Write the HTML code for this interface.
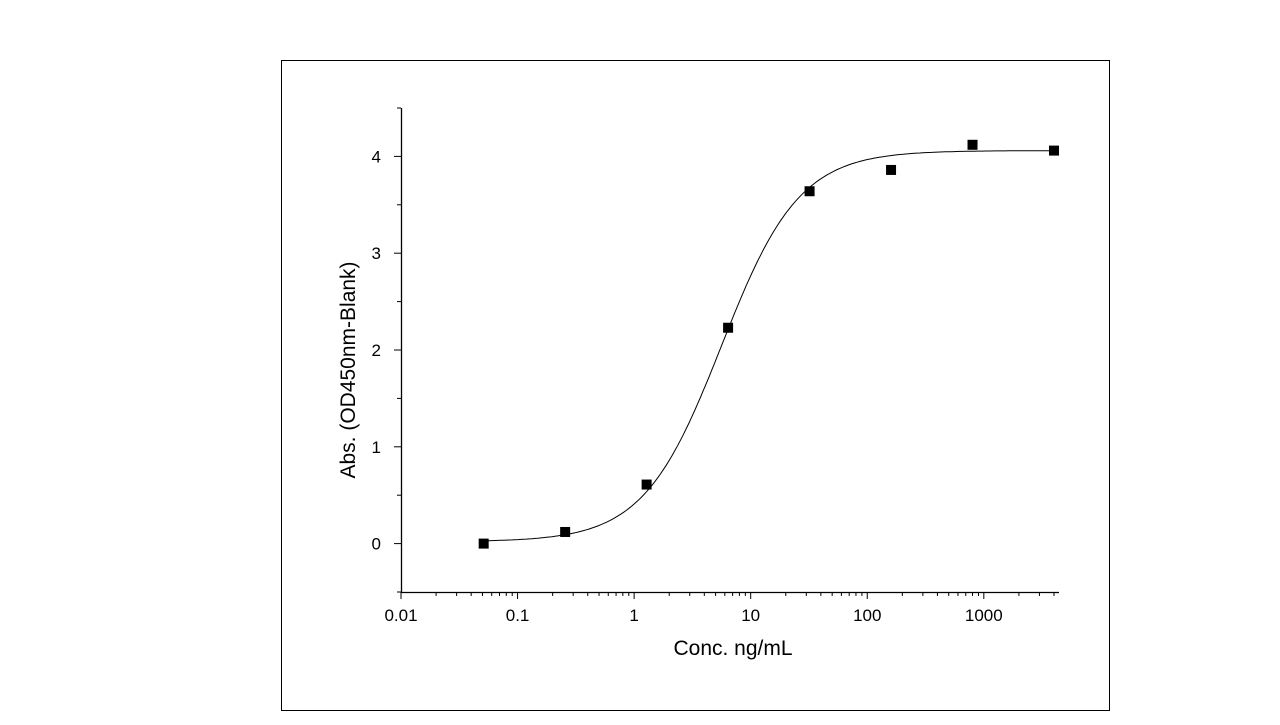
<!DOCTYPE html>
<html><head><meta charset="utf-8"><style>
body{margin:0;background:#fff;width:1280px;height:720px;overflow:hidden;font-family:"Liberation Sans",Arial,sans-serif}
</style></head><body>
<svg width="1280" height="720">
<rect x="281.5" y="60.5" width="828" height="650" fill="none" stroke="#000" stroke-width="1"/>
<g id="axes"></g>
<g id="marks"></g>
<text x="733" y="655" font-size="21" text-anchor="middle">Conc. ng/mL</text>
<text transform="translate(355,370) rotate(-90)" font-size="21" text-anchor="middle">Abs. (OD450nm-Blank)</text>
</svg>
<script>
const conc=[0.0512,0.256,1.28,6.4,32,160,800,4000];
const od=[0.0,0.12,0.61,2.23,3.64,3.86,4.12,4.06];
const xTicks=[0.01,0.1,1,10,100,1000];
const xTickLabels=["0.01","0.1","1","10","100","1000"];
const yTicks=[0,1,2,3,4];
const yTickLabels=["0","1","2","3","4"];
const fitBottom=0.02, fitTop=4.06, fitEC50=5.6, fitHill=1.3;
const NS="http://www.w3.org/2000/svg";
const X0=401,X1=1059,lmin=-2,lmax=3.645;
const Y0=592,Y1=108,ymin=-0.5,ymax=4.5;
const sx=v=>X0+(Math.log10(v)-lmin)/(lmax-lmin)*(X1-X0);
const sy=v=>Y0-(v-ymin)/(ymax-ymin)*(Y0-Y1);
function mk(tag,attrs,parent){const e=document.createElementNS(NS,tag);for(const k in attrs)e.setAttribute(k,attrs[k]);parent.appendChild(e);return e;}
const ax=document.getElementById('axes'),mg=document.getElementById('marks');
let l=mk('line',{x1:X0,y1:Y0+0.5,x2:X1,y2:Y0+0.5,stroke:'#000','stroke-width':1.3},ax);


l=mk('line',{x1:X0+0.5,y1:Y1,x2:X0+0.5,y2:Y0,stroke:'#000','stroke-width':1.3},ax);


xTicks.forEach((t,i)=>{const x=sx(t);
 mk('line',{x1:x,y1:Y0,x2:x,y2:Y0+7,stroke:'#000'},ax);
 for(let m=2;m<10;m++){const xm=sx(t*m);if(xm<=X1)mk('line',{x1:xm,y1:Y0,x2:xm,y2:Y0+4,stroke:'#000'},ax);}
 const tx=mk('text',{x:x,y:Y0+29,'font-size':17,'text-anchor':'middle'},ax);tx.textContent=xTickLabels[i];
 
 
});
for(let v=ymin;v<=ymax+1e-9;v+=0.5){const y=sy(v);const major=Math.abs(v-Math.round(v))<1e-9;
 mk('line',{x1:X0-(major?7:4),y1:y,x2:X0,y2:y,stroke:'#000'},ax);}
yTicks.forEach((t,i)=>{const tx=mk('text',{x:X0-20,y:sy(t)+6,'font-size':17,'text-anchor':'end'},ax);tx.textContent=yTickLabels[i];
 
 });
let d='';for(let i=0;i<=200;i++){const lx=Math.log10(conc[0])+i/200*(Math.log10(conc[conc.length-1])-Math.log10(conc[0]));const c=Math.pow(10,lx);
 const r=Math.pow(c/fitEC50,fitHill);const v=fitBottom+(fitTop-fitBottom)*r/(1+r);d+=(i?'L':'M')+sx(c).toFixed(1)+','+sy(v).toFixed(1);}
const p=mk('path',{d:d,fill:'none',stroke:'#000','stroke-width':1},mg);


conc.forEach((c,i)=>{const r=mk('rect',{x:sx(c)-5,y:sy(od[i])-5,width:10,height:10,fill:'#000'},mg);
 
 });
</script>
</body></html>
